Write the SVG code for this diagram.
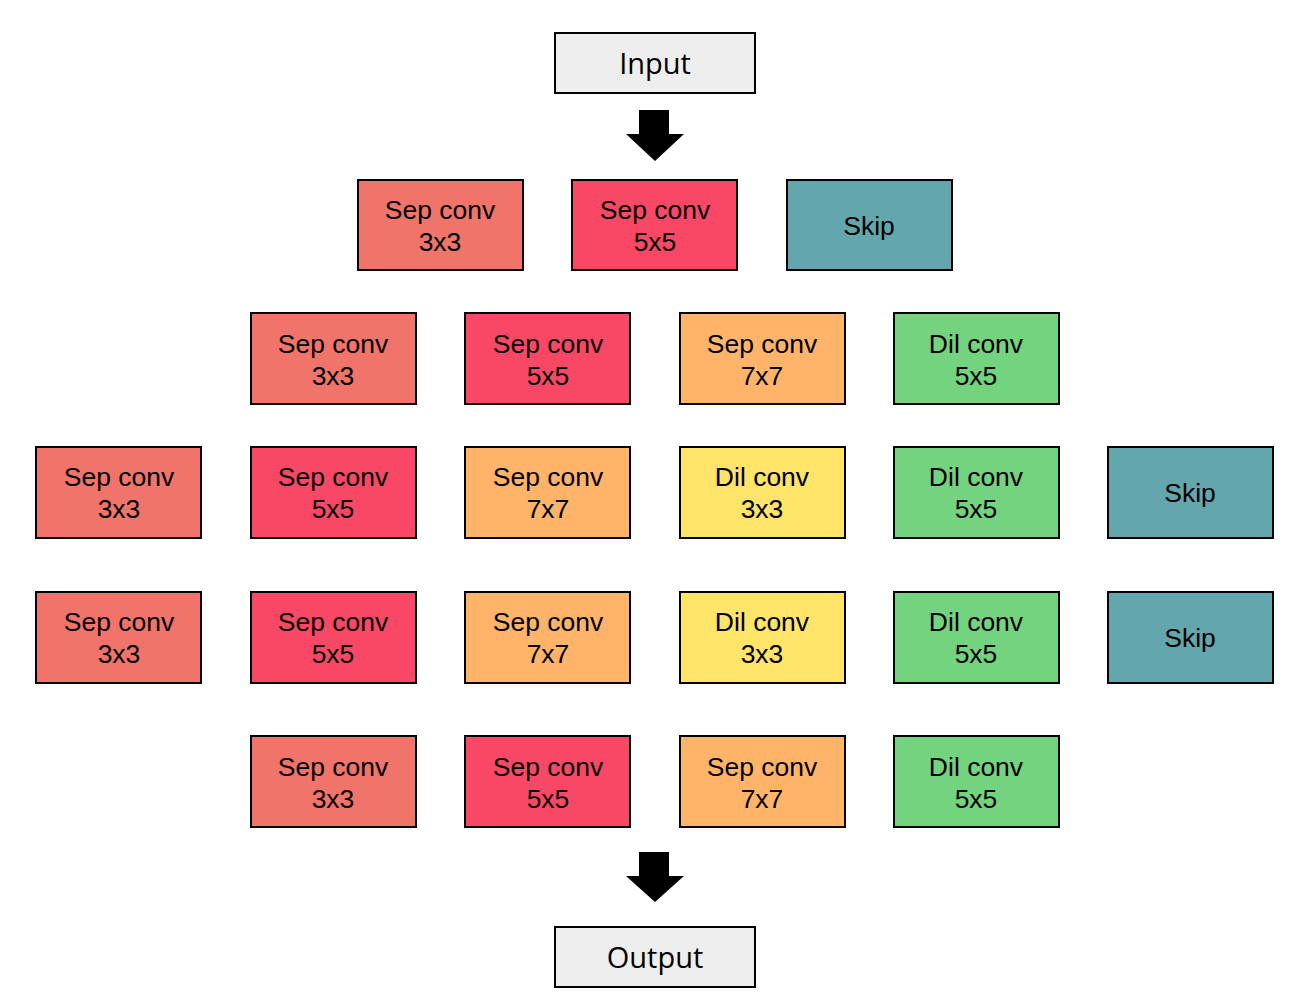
<svg xmlns="http://www.w3.org/2000/svg" width="1304" height="1006" viewBox="0 0 1304 1006">
<style>
rect{stroke:#000;stroke-width:2}
text{font-family:"Liberation Sans",Arial,sans-serif;font-size:26.5px;text-anchor:middle;fill:#000}
.io{fill:#eeeeee}
.io+text{font-family:"Open Sans","Noto Sans",sans-serif;font-size:29px}
.s3{fill:#f0746a}.s5{fill:#f94866}.s7{fill:#ffb46a}.d3{fill:#ffe46a}.d5{fill:#73d37e}.sk{fill:#63a6ae}
</style>
<rect width="1304" height="1006" fill="#fff" style="stroke:none"/>
<g id="connectors">
<polygon points="639,110 669,110 669,134 684,134 655,161 626,134 639,134" fill="#000"/>
<polygon points="639,852 669,852 669,876 684,876 655,902 626,876 639,876" fill="#000"/>
</g>
<g id="input"><rect class="io" x="555" y="33" width="200" height="60"/><text x="655" y="74">Input</text></g>
<g id="output"><rect class="io" x="555" y="927" width="200" height="60"/><text x="655" y="968">Output</text></g>

<g id="r1c1"><rect class="s3" x="358" y="180" width="165" height="90"/><text x="440" y="219">Sep conv</text><text x="440" y="251">3x3</text></g>
<g id="r1c2"><rect class="s5" x="572" y="180" width="165" height="90"/><text x="655" y="219">Sep conv</text><text x="655" y="251">5x5</text></g>
<g id="r1c3"><rect class="sk" x="787" y="180" width="165" height="90"/><text x="869" y="235">Skip</text></g>

<g id="r2c2"><rect class="s3" x="251" y="313" width="165" height="91"/><text x="333" y="353">Sep conv</text><text x="333" y="385">3x3</text></g>
<g id="r2c3"><rect class="s5" x="465" y="313" width="165" height="91"/><text x="548" y="353">Sep conv</text><text x="548" y="385">5x5</text></g>
<g id="r2c4"><rect class="s7" x="680" y="313" width="165" height="91"/><text x="762" y="353">Sep conv</text><text x="762" y="385">7x7</text></g>
<g id="r2c5"><rect class="d5" x="894" y="313" width="165" height="91"/><text x="976" y="353">Dil conv</text><text x="976" y="385">5x5</text></g>

<g id="r3c1"><rect class="s3" x="36" y="447" width="165" height="91"/><text x="119" y="486">Sep conv</text><text x="119" y="518">3x3</text></g>
<g id="r3c2"><rect class="s5" x="251" y="447" width="165" height="91"/><text x="333" y="486">Sep conv</text><text x="333" y="518">5x5</text></g>
<g id="r3c3"><rect class="s7" x="465" y="447" width="165" height="91"/><text x="548" y="486">Sep conv</text><text x="548" y="518">7x7</text></g>
<g id="r3c4"><rect class="d3" x="680" y="447" width="165" height="91"/><text x="762" y="486">Dil conv</text><text x="762" y="518">3x3</text></g>
<g id="r3c5"><rect class="d5" x="894" y="447" width="165" height="91"/><text x="976" y="486">Dil conv</text><text x="976" y="518">5x5</text></g>
<g id="r3c6"><rect class="sk" x="1108" y="447" width="165" height="91"/><text x="1190" y="502">Skip</text></g>

<g id="r4c1"><rect class="s3" x="36" y="592" width="165" height="91"/><text x="119" y="631">Sep conv</text><text x="119" y="663">3x3</text></g>
<g id="r4c2"><rect class="s5" x="251" y="592" width="165" height="91"/><text x="333" y="631">Sep conv</text><text x="333" y="663">5x5</text></g>
<g id="r4c3"><rect class="s7" x="465" y="592" width="165" height="91"/><text x="548" y="631">Sep conv</text><text x="548" y="663">7x7</text></g>
<g id="r4c4"><rect class="d3" x="680" y="592" width="165" height="91"/><text x="762" y="631">Dil conv</text><text x="762" y="663">3x3</text></g>
<g id="r4c5"><rect class="d5" x="894" y="592" width="165" height="91"/><text x="976" y="631">Dil conv</text><text x="976" y="663">5x5</text></g>
<g id="r4c6"><rect class="sk" x="1108" y="592" width="165" height="91"/><text x="1190" y="647">Skip</text></g>

<g id="r5c2"><rect class="s3" x="251" y="736" width="165" height="91"/><text x="333" y="776">Sep conv</text><text x="333" y="808">3x3</text></g>
<g id="r5c3"><rect class="s5" x="465" y="736" width="165" height="91"/><text x="548" y="776">Sep conv</text><text x="548" y="808">5x5</text></g>
<g id="r5c4"><rect class="s7" x="680" y="736" width="165" height="91"/><text x="762" y="776">Sep conv</text><text x="762" y="808">7x7</text></g>
<g id="r5c5"><rect class="d5" x="894" y="736" width="165" height="91"/><text x="976" y="776">Dil conv</text><text x="976" y="808">5x5</text></g>
</svg>
